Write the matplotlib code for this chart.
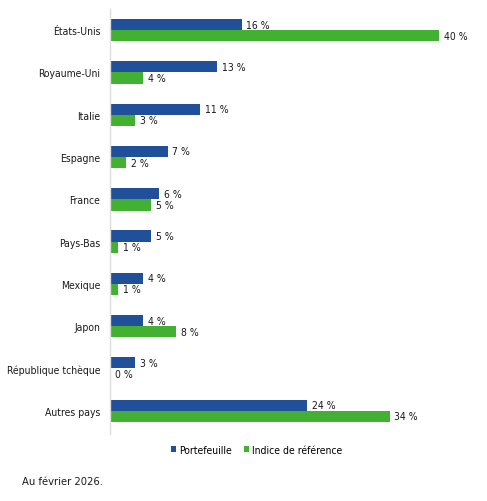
import numpy as np
import matplotlib
matplotlib.use("Agg")
import matplotlib.pyplot as plt

plt.rcParams['font.family'] = ['DejaVu Sans']
plt.rcParams['font.stretch'] = 'condensed'

countries = ["États-Unis", "Royaume-Uni", "Italie", "Espagne", "France",
             "Pays-Bas", "Mexique", "Japon", "République tchèque", "Autres pays"]
portefeuille = [16, 13, 11, 7, 6, 5, 4, 4, 3, 24]
indice = [40, 4, 3, 2, 5, 1, 1, 8, 0, 34]
series_names = ["Portefeuille", "Indice de référence"]

BLUE = "#21509a"
GREEN = "#42b132"
TXT = "#1a1a1a"

fig = plt.figure(figsize=(4.87, 5.02), dpi=100)
ax = fig.add_axes([110/487, 1 - 435/502, 370/487, 425/502])

y = np.arange(len(countries))
h = 0.265
b1 = ax.barh(y - h/2, portefeuille, height=h, color=BLUE, label=series_names[0])
b2 = ax.barh(y + h/2, indice, height=h, color=GREEN, label=series_names[1])

for bars, vals in ((b1, portefeuille), (b2, indice)):
    for bar, v in zip(bars, vals):
        ax.text(bar.get_width() + 0.6, bar.get_y() + bar.get_height()/2,
                f"{v} %", va='center', ha='left', fontsize=7.5, color=TXT)

ax.set_xlim(0, 45)
ax.set_ylim(9.55, -0.5)
ax.set_yticks(y)
ax.set_yticklabels(countries, fontsize=7.5, color=TXT)
ax.tick_params(axis='y', length=0, pad=7)
ax.set_xticks([])
for s in ('top', 'right', 'bottom'):
    ax.spines[s].set_visible(False)
ax.spines['left'].set_color('#dddddd')
ax.spines['left'].set_linewidth(1)

fig.legend(handles=[b1, b2], loc='center', bbox_to_anchor=(257/487, 1 - 451/502),
           ncol=2, frameon=False, fontsize=7.5, handlelength=0.45, handleheight=0.45,
           handletextpad=0.3, columnspacing=1.2)

fig.text(22/487, 1 - 482/502, "Au février 2026.", fontsize=8, va='center', ha='left',
         color=TXT)

fig.savefig("out.png", dpi=100)
